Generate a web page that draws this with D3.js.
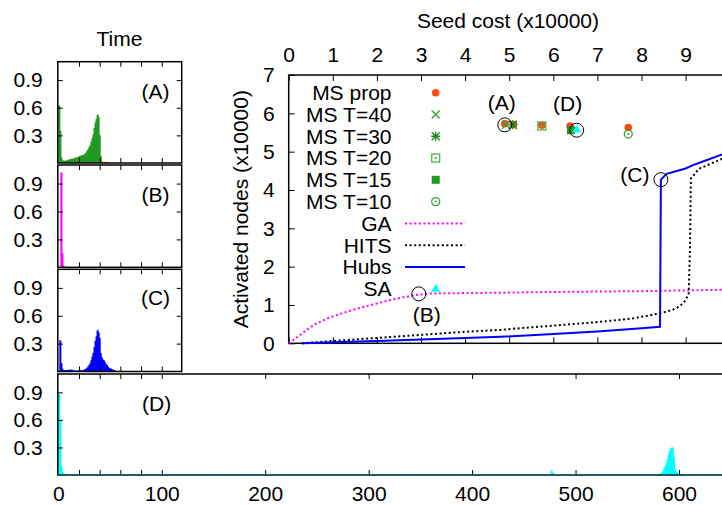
<!DOCTYPE html>
<html><head><meta charset="utf-8">
<script src="https://cdn.jsdelivr.net/npm/d3@7"></script>
<style>
body{margin:0;background:#fff}
svg{display:block}
text{font-family:'Liberation Sans',Arial,Helvetica,sans-serif;font-size:21px;fill:#000}
</style>
</head><body>
<svg id="c" width="722" height="506"></svg>
<script>
// ---------------- DATA ----------------
// Main chart: Seed cost (x10000) vs Activated nodes (x10000)
const msPropX = [4.9, 5.1, 5.74, 6.38, 7.7];
const msPropY = [5.73, 5.71, 5.69, 5.67, 5.63];
const msT40X = [4.93, 5.08];
const msT40Y = [5.70, 5.70];
const msT30X = [5.08];
const msT30Y = [5.70];
const msT20X = [5.74];
const msT20Y = [5.67];
const msT15X = [6.4];
const msT15Y = [5.56];
const msT10X = [7.7];
const msT10Y = [5.46];
const saX = [6.53];
const saY = [5.58];

const gaX = [0, 0.15, 0.35, 0.6, 0.9, 1.2, 1.6, 2.0, 2.3, 2.6, 2.95, 3.2, 4.0, 4.8, 6.0, 7.0, 8.0, 9.0, 10.0];
const gaY = [0, 0.12, 0.3, 0.5, 0.66, 0.78, 0.92, 1.04, 1.13, 1.2, 1.27, 1.3, 1.31, 1.32, 1.34, 1.35, 1.36, 1.38, 1.40];

const hitsX = [0.3, 1.0, 2.0, 3.0, 4.0, 4.8, 5.3, 6.0, 7.06, 7.8, 8.42, 8.7, 8.87, 9.0, 9.07, 9.1, 9.12, 9.3, 9.5, 10.0];
const hitsY = [0, 0.06, 0.14, 0.22, 0.3, 0.35, 0.4, 0.46, 0.56, 0.65, 0.78, 0.87, 0.97, 1.12, 1.3, 2.5, 4.3, 4.55, 4.65, 4.9];

const hubsX = [0.3, 1.0, 2.0, 3.0, 4.0, 4.8, 6.0, 7.0, 8.0, 8.42, 8.44, 8.57, 9.0, 9.17, 9.5, 10.0];
const hubsY = [0, 0.03, 0.06, 0.1, 0.14, 0.17, 0.24, 0.31, 0.39, 0.43, 4.27, 4.42, 4.56, 4.65, 4.79, 5.0];

// Histograms (Time): bin start times and fraction values
const aPropT = [41,42,43,44,45,46,47];
const aPropV = [0.02,0.015,0.012,0.012,0.01,0.01,0.01];
const aT = [0,1,2,3,4,5,6,7,8,9,10,11,12,13,14,15,16,17,18,19,20,21,22,23,24,25,26,27,28,29,30,31,32,33,34,35,36,37,38,39,40,41,42];
const aV = [0.63,0.62,0.35,0.06,0.03,0.025,0.025,0.03,0.03,0.035,0.04,0.04,0.045,0.05,0.05,0.055,0.06,0.06,0.065,0.07,0.075,0.08,0.085,0.09,0.09,0.1,0.11,0.13,0.15,0.17,0.19,0.23,0.27,0.31,0.38,0.44,0.48,0.52,0.53,0.5,0.3,0.08,0.01];

const bT = [2,3,4,5];
const bV = [1.02,1.02,0.15,0.02];

const cT = [1,2,3,4,5,6,7,8,9,10,11,12,13,14,15,16,17,18,19,20,21,22,23,24,25,26,27,28,29,30,31,32,33,34,35,36,37,38,39,40,41,42,43,44,45,46,47,48,49,50,51,52,53,54,55,56];
const cV = [0.34,0.33,0.09,0.03,0.015,0.015,0.015,0.015,0.02,0.02,0.022,0.022,0.02,0.018,0.012,0.012,0.012,0.012,0.012,0.013,0.014,0.015,0.017,0.02,0.025,0.03,0.04,0.055,0.07,0.09,0.12,0.16,0.2,0.26,0.33,0.38,0.44,0.45,0.42,0.36,0.2,0.15,0.13,0.12,0.1,0.08,0.07,0.05,0.04,0.035,0.03,0.025,0.02,0.015,0.01,0.005];

const dT = [0,1,2,3,4,5,8,15,27,45,62,78,104,105,106,107,108,120,135,148,160,178,185,200,205,230,262,290,342,378,400,401,402,403,418,425,440,455,476,477,478,479,492,510,512,520,525,528,540,565,568,575,578,580,581,582,583,584,585,586,587,588,589,590,591,592,593,594,595,596,597,598,599,600,601,602,603,604,605];
const dV = [0.88,0.88,0.6,0.1,0.03,0.02,0.01,0.008,0.006,0.008,0.006,0.008,0.015,0.012,0.01,0.01,0.008,0.006,0.008,0.01,0.008,0.01,0.008,0.006,0.008,0.006,0.008,0.006,0.01,0.008,0.012,0.01,0.008,0.006,0.008,0.006,0.008,0.006,0.05,0.05,0.025,0.015,0.006,0.008,0.01,0.008,0.008,0.006,0.008,0.006,0.008,0.01,0.01,0.01,0.015,0.02,0.03,0.05,0.07,0.1,0.13,0.17,0.22,0.26,0.29,0.3,0.3,0.3,0.2,0.08,0.04,0.03,0.02,0.02,0.015,0.01,0.01,0.01,0.01];

const mainXTicks = [0,1,2,3,4,5,6,7,8,9];
const mainYTicks = [0,1,2,3,4,5,6,7];
const histYTicks = [0.3,0.6,0.9];
const smallXTicks = [20,40,60,80,100];
const dXTicks = [20,40,60,80,100,200,300,400,500,600];
const dXLabels = [0,100,200,300,400,500,600];

const legendNames = ["MS prop","MS T=40","MS T=30","MS T=20","MS T=15","MS T=10","GA","HITS","Hubs","SA"];

// ---------------- DRAW ----------------
const FS = 21;
const svg = d3.select("#c");
const C = {prop:"#ff4a10", t40:"#33a333", t30:"#1e8c1e", t20:"#4db34d", t15:"#229a22", t10:"#33a333",
           ga:"#ff00ff", hits:"#000000", hubs:"#0000ff", sa:"#00ffff", green:"#229922"};

const mx = d3.scaleLinear().domain([0,10]).range([288.7, 729.7]);
const my = d3.scaleLinear().domain([0,7]).range([343.3, 75]);

// main frame
svg.append("rect").attr("x",mx(0)).attr("y",my(7)).attr("width",mx(10)-mx(0)).attr("height",my(0)-my(7))
  .attr("fill","none").attr("stroke","#000").attr("stroke-width",1.5);

function styleAxis(g){
  g.select(".domain").remove();
  g.selectAll("text").attr("font-size",FS).attr("font-family","'Liberation Sans',Arial,sans-serif").attr("fill","#000");
  g.selectAll("line").attr("stroke","#000");
  g.attr("font-size",FS).attr("font-family","'Liberation Sans',Arial,sans-serif");
}
svg.append("g").attr("transform",`translate(0,${my(7)})`)
  .call(d3.axisTop(mx).tickValues(mainXTicks).tickSize(-6).tickPadding(13).tickFormat(d3.format("d"))).call(styleAxis);
svg.append("g").attr("transform",`translate(0,${my(0)})`)
  .call(d3.axisBottom(mx).tickValues(mainXTicks).tickSize(-6).tickFormat("")).call(styleAxis);
svg.append("g").attr("transform",`translate(${mx(0)},0)`)
  .call(d3.axisLeft(my).tickValues(mainYTicks).tickSize(-6).tickPadding(14).tickFormat(d3.format("d"))).call(styleAxis);

svg.append("text").attr("x",508).attr("y",28).attr("text-anchor","middle").text("Seed cost (x10000)");
svg.append("text").attr("transform",`translate(248,${(my(0)+my(7))/2}) rotate(-90)`).attr("text-anchor","middle").text("Activated nodes (x10000)");

// lines
const zip = (xs, ys) => xs.map((x,i)=>[x, ys[i]]);
const lineGen = d3.line().x(d=>mx(d[0])).y(d=>my(d[1]));
const main = svg.append("g");
main.append("path").attr("d",lineGen(zip(gaX,gaY))).attr("fill","none").attr("stroke",C.ga).attr("stroke-width",2).attr("stroke-dasharray","2,2.6");
main.append("path").attr("d",lineGen(zip(hitsX,hitsY))).attr("fill","none").attr("stroke",C.hits).attr("stroke-width",2).attr("stroke-dasharray","2,2.6");
main.append("path").attr("d",lineGen(zip(hubsX,hubsY))).attr("fill","none").attr("stroke",C.hubs).attr("stroke-width",2);

// symbols
function sym(g, type, x, y, color){
  const s = 4;
  if(type==="circle"){ g.append("circle").attr("cx",x).attr("cy",y).attr("r",3.8).attr("fill",color); }
  else if(type==="times"){ g.append("path").attr("d",`M${x-s},${y-s}L${x+s},${y+s}M${x-s},${y+s}L${x+s},${y-s}`).attr("stroke",color).attr("stroke-width",1.3).attr("fill","none"); }
  else if(type==="star"){ g.append("path").attr("d",`M${x-s},${y-s}L${x+s},${y+s}M${x-s},${y+s}L${x+s},${y-s}M${x-s-0.5},${y}L${x+s+0.5},${y}M${x},${y-s-0.5}L${x},${y+s+0.5}`).attr("stroke",color).attr("stroke-width",1.3).attr("fill","none"); }
  else if(type==="boxdot"){ g.append("rect").attr("x",x-s).attr("y",y-s).attr("width",2*s).attr("height",2*s).attr("fill","none").attr("stroke",color).attr("stroke-width",1.3);
    g.append("rect").attr("x",x-1).attr("y",y-1).attr("width",2).attr("height",2).attr("fill",color); }
  else if(type==="box"){ g.append("rect").attr("x",x-s).attr("y",y-s).attr("width",2*s).attr("height",2*s).attr("fill",color); }
  else if(type==="circdot"){ g.append("circle").attr("cx",x).attr("cy",y).attr("r",s).attr("fill","none").attr("stroke",color).attr("stroke-width",1.3);
    g.append("circle").attr("cx",x).attr("cy",y).attr("r",1).attr("fill",color); }
  else if(type==="tri"){ g.append("path").attr("d",`M${x},${y-5}L${x+4.5},${y+3}L${x-4.5},${y+3}Z`).attr("fill",color); }
}
const pts = svg.append("g");
msPropX.forEach((x,i)=>sym(pts,"circle",mx(x),my(msPropY[i]),C.prop));
msT40X.forEach((x,i)=>sym(pts,"times",mx(x),my(msT40Y[i]),C.t40));
msT30X.forEach((x,i)=>sym(pts,"star",mx(x),my(msT30Y[i]),C.t30));
msT20X.forEach((x,i)=>sym(pts,"boxdot",mx(x),my(msT20Y[i]),C.t20));
msT15X.forEach((x,i)=>sym(pts,"box",mx(x),my(msT15Y[i]),C.t15));
msT10X.forEach((x,i)=>sym(pts,"circdot",mx(x),my(msT10Y[i]),C.t10));
saX.forEach((x,i)=>sym(pts,"tri",mx(x),my(saY[i]),C.sa));

// annotations
const ann = [
  {lab:"(A)", x:msPropX[0], y:msPropY[0]-0.03, dx:-3, dy:-22},
  {lab:"(D)", x:saX[0], y:saY[0]-0.02, dx:-9, dy:-27},
  {lab:"(C)", x:hubsX[10], y:hubsY[10], dx:-26, dy:-5},
  {lab:"(B)", x:gaX[10], y:gaY[10]+0.02, dx:8, dy:21}
];
ann.forEach(a=>{
  svg.append("circle").attr("cx",mx(a.x)).attr("cy",my(a.y)).attr("r",7).attr("fill","none").attr("stroke","#000").attr("stroke-width",1);
  svg.append("text").attr("x",mx(a.x)+a.dx).attr("y",my(a.y)+a.dy).attr("dy","0.35em").attr("text-anchor","middle").text(a.lab);
});

// legend
const lg = svg.append("g");
const symTypes = ["circle","times","star","boxdot","box","circdot",null,null,null,"tri"];
const symCols = [C.prop,C.t40,C.t30,C.t20,C.t15,C.t10,C.ga,C.hits,C.hubs,C.sa];
legendNames.forEach((n,i)=>{
  const y = 92.7 + i*21.78;
  lg.append("text").attr("x",391.5).attr("y",y).attr("dy","0.35em").attr("text-anchor","end").text(n);
  if(symTypes[i]) sym(lg, symTypes[i], 435.7, y, symCols[i]);
  else {
    const l = lg.append("line").attr("x1",405).attr("x2",465).attr("y1",y).attr("y2",y).attr("stroke",symCols[i]).attr("stroke-width",2);
    if(i!==8) l.attr("stroke-dasharray","2,2.6");
  }
});

// ---------- histogram panels ----------
const hx = d3.scaleLinear().domain([0,100]).range([58.3, 161.75]);
function runs(ts, vs){
  const out=[]; let cur=null;
  ts.forEach((t,i)=>{ if(cur && t===cur[cur.length-1][0]+1) cur.push([t,vs[i]]); else { cur=[[t,vs[i]]]; out.push(cur);} });
  return out;
}
function drawHist(g, ys, ts, vs, color){
  runs(ts,vs).forEach(r=>{
    let d = `M${hx(r[0][0])},${ys(0)}`;
    r.forEach(([t,v])=>{ d += `L${hx(t)},${ys(v)}L${hx(t+1)},${ys(v)}`; });
    d += `L${hx(r[r.length-1][0]+1)},${ys(0)}Z`;
    g.append("path").attr("d",d).attr("fill",color).attr("stroke","none");
  });
}
function panel(top, bottom, right, xticks, withRight){
  const ys = d3.scaleLinear().domain([0,1.1]).range([bottom, top]);
  const g = svg.append("g");
  return {g, ys, finish(){
    g.append("rect").attr("x",57.8).attr("y",top).attr("width",right-57.8).attr("height",bottom-top)
      .attr("fill","none").attr("stroke","#000").attr("stroke-width",1.5);
    g.append("g").attr("transform",`translate(57.8,0)`)
      .call(d3.axisLeft(ys).tickValues(histYTicks).tickSize(-5).tickPadding(15).tickFormat(d3.format(".1f"))).call(styleAxis);
    if(withRight) g.append("g").attr("transform",`translate(${right},0)`)
      .call(d3.axisRight(ys).tickValues(histYTicks).tickSize(-5).tickFormat("")).call(styleAxis);
    g.append("g").attr("transform",`translate(0,${top})`)
      .call(d3.axisTop(hx).tickValues(xticks).tickSize(-5).tickFormat("")).call(styleAxis);
    g.append("g").attr("transform",`translate(0,${bottom})`)
      .call(d3.axisBottom(hx).tickValues(xticks).tickSize(-5).tickFormat("")).call(styleAxis);
  }};
}
const pA = panel(61.7, 163, 181.7, smallXTicks, true);
drawHist(pA.g, pA.ys, aPropT, aPropV, C.prop);
drawHist(pA.g, pA.ys, aT, aV, C.green);
pA.finish();
pA.g.append("text").attr("x",hx(94)).attr("y",pA.ys(0.77)).attr("dy","0.35em").attr("text-anchor","middle").text("(A)");

const pB = panel(165, 267.3, 181.7, smallXTicks, true);
drawHist(pB.g, pB.ys, bT, bV, C.ga);
pB.finish();
pB.g.append("text").attr("x",hx(94)).attr("y",pB.ys(0.78)).attr("dy","0.35em").attr("text-anchor","middle").text("(B)");

const pC = panel(269.3, 371.5, 181.7, smallXTicks, true);
drawHist(pC.g, pC.ys, cT, cV, C.hubs);
pC.finish();
pC.g.append("text").attr("x",hx(94)).attr("y",pC.ys(0.8)).attr("dy","0.35em").attr("text-anchor","middle").text("(C)");

const pD = panel(374, 475, 745, dXTicks, false);
drawHist(pD.g, pD.ys, dT, dV, C.sa);
pD.finish();
pD.g.append("line").attr("x1",57.8).attr("x2",745).attr("y1",475).attr("y2",475).attr("stroke","#1a6a6a").attr("stroke-width",1.5);
pD.g.append("text").attr("x",hx(95)).attr("y",pD.ys(0.78)).attr("dy","0.35em").attr("text-anchor","middle").text("(D)");
pD.g.append("g").attr("transform",`translate(0,475)`)
  .call(d3.axisBottom(hx).tickValues(dXLabels).tickSize(0).tickPadding(11.5).tickFormat(d3.format("d"))).call(styleAxis);

svg.append("text").attr("x",119.5).attr("y",46).attr("text-anchor","middle").text("Time");
</script>
</body></html>
